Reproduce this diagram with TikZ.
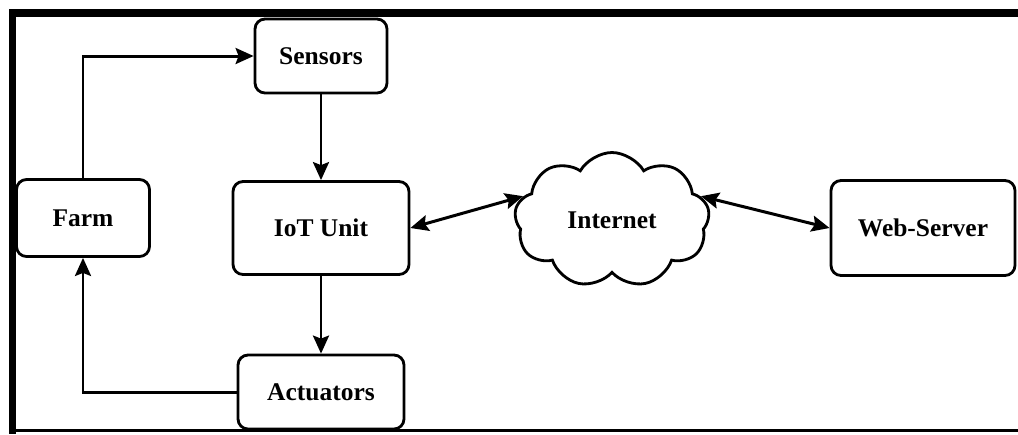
\documentclass[tikz,border=0pt]{standalone}
\usepackage{fontspec}
\setmainfont{Liberation Serif}
\usetikzlibrary{arrows.meta,shapes.symbols,positioning}

\begin{document}
\begin{tikzpicture}[x=0.02cm, y=-0.02cm,
        box/.style={rectangle, draw, line width=1.6pt, rounded corners=0.2cm, text centered, align=center, font=\bfseries\fontsize{14.5}{17}\selectfont},
        net/.style={cloud, draw, line width=1.6pt, cloud puffs=9, cloud puff arc=120, aspect=1.5, font=\bfseries\fontsize{14.5}{17}\selectfont},
        arr/.style={line width=1.7pt, -{Stealth[length=0.36cm, width=0.32cm, inset=0.06cm]}},
        darr/.style={line width=1.7pt, {Stealth[length=0.36cm, width=0.32cm, inset=0.06cm]}-{Stealth[length=0.36cm, width=0.32cm, inset=0.06cm]}},
    ]
        \useasboundingbox (0,0) rectangle (1018,434);
        % Frame (top, left, bottom)
        \fill (9,9) rectangle (1018,17);
        \fill (9,9) rectangle (16,434);
        \fill (9,429) rectangle (1018,432);

        % Nodes
        \node[box, minimum width=2.64cm, minimum height=1.48cm] (sensors) at (321,56) {Sensors};
        \node[box, minimum width=2.66cm, minimum height=1.54cm] (farm) at (83,218) {Farm};
        \node[box, minimum width=3.52cm, minimum height=1.86cm] (iot) at (321,228) {IoT Unit};
        \node[box, minimum width=3.32cm, minimum height=1.48cm] (act) at (321,392) {Actuators};
        \node[net, minimum width=3.9cm, minimum height=2.7cm] (inet) at (612,220) {Internet};
        \node[box, minimum width=3.68cm, minimum height=1.9cm] (web) at (923,228) {Web-Server};

        % Control loop
        \draw[arr] (farm.north) |- (sensors.west);
        \draw[arr] (sensors.south) -- (iot.north);
        \draw[arr] (iot.south) -- (act.north);
        \draw[arr] (act.west) -| (farm.south);

        % Network links
        \draw[darr] (iot.east) -- (inet.165);
        \draw[darr] (inet.15) -- (web.west);
    \end{tikzpicture}
\end{document}
